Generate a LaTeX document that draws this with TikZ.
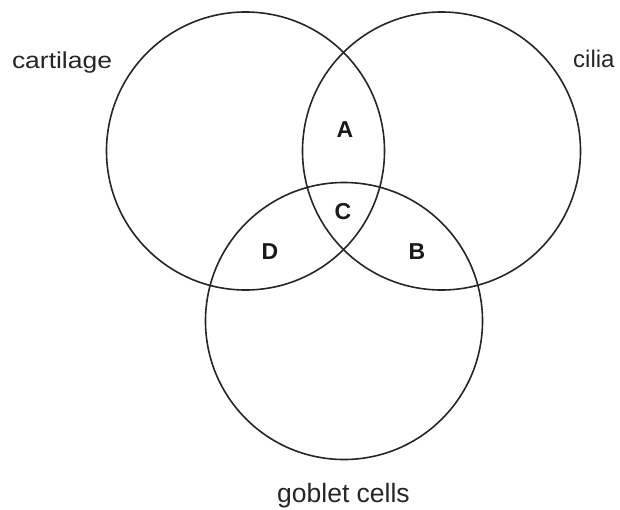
\documentclass[tikz,border=0pt]{standalone}
\usepackage{fontspec}
\setmainfont{Liberation Sans}
\begin{document}
\begin{tikzpicture}[x=1pt,y=-1pt,
  ring/.style={draw=black!85,line width=1.6pt},
  setlabel/.style={inner sep=0pt,anchor=base,text=black!85},
  region/.style={inner sep=0pt,font=\fontsize{23}{25}\selectfont\bfseries,text=black!90}]
\useasboundingbox (0,0) rectangle (620,509);
\fill[white] (0,0) rectangle (620,509);
\node[circle,ring,minimum size=278pt,inner sep=0pt] (cart) at (245.5,151) {};
\node[circle,ring,minimum size=278pt,inner sep=0pt] (cil) at (441.5,151) {};
\node[circle,ring,minimum size=277pt,inner sep=0pt] (gob) at (344,321) {};
\node[setlabel,font=\fontsize{23}{26}\selectfont,xscale=1.15] (lcart) at (62,68) {cartilage};
\node[setlabel,font=\fontsize{24}{26}\selectfont,anchor=base west] (lcil) at (573,67) {cilia};
\node[setlabel,font=\fontsize{26.5}{28}\selectfont] (lgob) at (343.5,502) {goblet cells};
\node[region] (A) at (345,130) {A};
\node[region] (C) at (343,212) {C};
\node[region] (D) at (270,252) {D};
\node[region] (B) at (417,252) {B};
\end{tikzpicture}
\end{document}
